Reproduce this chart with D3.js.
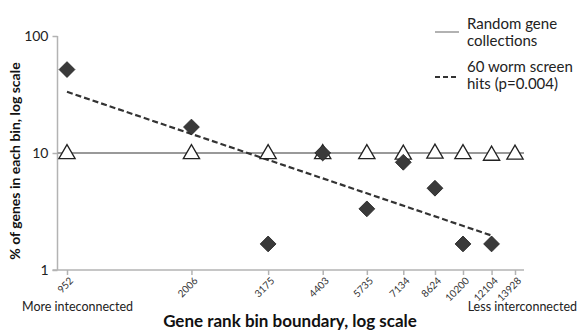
<!DOCTYPE html>
<html lang="en">
    <head>
        <title>Gene rank bins, log scale</title>
        <script src="https://d3js.org/d3.v7.min.js"></script>
        <style>
            body { margin: 0; background: #fff; }
            text { font-family: Lato, 'Open Sans', sans-serif; }
        </style>
    </head>
    <body>
    <div id="mainDiv">
    </div>

        <script type="text/javascript">
            // bin boundaries (gene rank)
            const binBoundaries = [952, 2006, 3175, 4403, 5735, 7134, 8624, 10200, 12104, 13928]
            // % of the 60 worm screen hits in each bin (no hit in the last bin)
            const screenHits = [51.67, 16.67, 1.67, 10, 3.33, 8.33, 5, 1.67, 1.67, null]
            // % of random gene collections in each bin
            const randomGenes = [10, 10, 10, 10, 10, 9.9, 10.1, 10, 9.7, 9.9]
            const yTicks = [1, 10, 100]

            const width = 578
            const height = 332

            const svg = d3.select('#mainDiv').append('svg')
                .attr('width', width)
                .attr('height', height)

            const x = d3.scaleLog()
                .domain([952, 13928])
                .range([67, 515])

            const y = d3.scaleLog()
                .domain([1, 100])
                .range([270, 36])

            const left = 57.5
            const right = 524
            const axisColor = '#b3b3b3'

            // y axis
            const yAxis = svg.append('g')
                .attr('transform', `translate(${left},0)`)
                .call(d3.axisLeft(y).tickValues(yTicks).tickFormat(d3.format('d')).tickSize(5).tickPadding(4))
            yAxis.select('.domain').attr('stroke', axisColor).attr('stroke-width', 1.5)
                .attr('d', `M0,${y(100)}H0V${y(1)}`)
            yAxis.selectAll('.tick line').attr('stroke', axisColor).attr('stroke-width', 1.5)
            yAxis.selectAll('.tick text')
                .attr('fill', '#222')
                .style('font-size', '14px')
                .style('font-family', 'Lato, sans-serif')

            // x axis
            const xAxis = svg.append('g')
                .attr('transform', `translate(0,${y(1)})`)
                .call(d3.axisBottom(x).tickValues(binBoundaries).tickFormat(d3.format('d')).tickSize(5).tickPadding(4))
            xAxis.select('.domain').attr('stroke', axisColor).attr('stroke-width', 1.5)
                .attr('d', `M${left - 5},0H${right}`)
            xAxis.selectAll('.tick line').attr('stroke', axisColor).attr('stroke-width', 1.5)
            xAxis.selectAll('.tick text')
                .attr('fill', '#333')
                .attr('text-anchor', 'end')
                .attr('x', 0)
                .attr('y', 0)
                .attr('dy', '0.35em')
                .attr('transform', 'translate(4,9) rotate(-45)')
                .style('font-size', '10px')
                .style('font-family', 'Lato, sans-serif')

            // flat trend for random collections
            const randMean = d3.mean(randomGenes)
            svg.append('line')
                .attr('x1', left).attr('x2', right)
                .attr('y1', y(Math.round(randMean))).attr('y2', y(Math.round(randMean)))
                .attr('stroke', '#999')
                .attr('stroke-width', 2)

            // power trend (log-log regression) for screen hits
            const hitPts = binBoundaries.map((b, i) => [b, screenHits[i]]).filter(d => d[1] != null)
            const lx = hitPts.map(d => Math.log10(d[0]))
            const ly = hitPts.map(d => Math.log10(d[1]))
            const mx = d3.mean(lx), my = d3.mean(ly)
            const slope = d3.sum(lx, (v, i) => (v - mx) * (ly[i] - my)) / d3.sum(lx, v => (v - mx) ** 2)
            const fit = v => Math.pow(10, my + slope * (Math.log10(v) - mx))
            const ends = [hitPts[0][0], hitPts[hitPts.length - 1][0]]
            svg.append('path')
                .datum(ends)
                .attr('d', d3.line().x(d => x(d)).y(d => y(fit(d))))
                .attr('fill', 'none')
                .attr('stroke', '#333')
                .attr('stroke-width', 2.2)
                .attr('stroke-dasharray', '6,3')

            // triangles
            const tri = d3.symbol().type(d3.symbolTriangle).size(115)
            svg.selectAll('.tri')
                .data(binBoundaries.map((b, i) => [b, randomGenes[i]]))
                .enter()
                .append('path')
                .attr('class', 'tri')
                .attr('d', tri)
                .attr('transform', d => `translate(${x(d[0])},${y(d[1]) + 1})`)
                .attr('fill', '#fff')
                .attr('stroke', '#222')
                .attr('stroke-width', 1.3)

            // diamonds
            const diamond = d3.symbol().type(d3.symbolSquare).size(125)
            svg.selectAll('.dia')
                .data(hitPts)
                .enter()
                .append('path')
                .attr('class', 'dia')
                .attr('d', diamond)
                .attr('transform', d => `translate(${x(d[0])},${y(d[1])}) rotate(45)`)
                .attr('fill', '#3a3a3a')
                .attr('stroke', '#222')
                .attr('stroke-width', 0.8)

            // axis titles
            svg.append('text')
                .attr('x', 290).attr('y', 327)
                .attr('text-anchor', 'middle')
                .style('font-size', '17px')
                .style('font-weight', 'bold')
                .attr('fill', '#111')
                .text('Gene rank bin boundary, log scale')

            svg.append('text')
                .attr('transform', `translate(20,${y(10) + 8}) rotate(-90)`)
                .attr('text-anchor', 'middle')
                .style('font-size', '14px')
                .style('font-weight', 'bold')
                .attr('fill', '#111')
                .text('% of genes in each bin, log scale')

            svg.append('text')
                .attr('x', 22).attr('y', 311)
                .style('font-size', '12.5px')
                .attr('fill', '#222')
                .text('More inteconnected')

            svg.append('text')
                .attr('x', 577).attr('y', 311)
                .attr('text-anchor', 'end')
                .style('font-size', '12.5px')
                .attr('fill', '#222')
                .text('Less interconnected')

            // legend
            const legend = svg.append('g')
            legend.append('line')
                .attr('x1', 435).attr('x2', 459).attr('y1', 32).attr('y2', 32)
                .attr('stroke', '#999').attr('stroke-width', 1.5)
            legend.append('line')
                .attr('x1', 435).attr('x2', 459).attr('y1', 77).attr('y2', 77)
                .attr('stroke', '#333').attr('stroke-width', 2).attr('stroke-dasharray', '5,3')
            const legendLines = [['Random gene', 29], ['collections', 46], ['60 worm screen', 72], ['hits (p=0.004)', 89]]
            legend.selectAll('text.lg')
                .data(legendLines)
                .enter()
                .append('text')
                .attr('class', 'lg')
                .attr('x', 467)
                .attr('y', d => d[1])
                .style('font-size', '15px')
                .attr('fill', '#222')
                .text(d => d[0])
        </script>
    </body>
</html>
